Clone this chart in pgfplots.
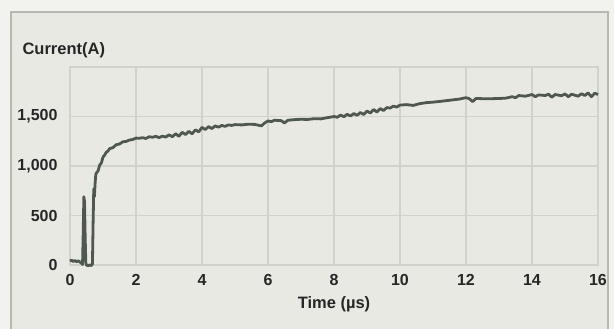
\documentclass[border=0pt]{standalone}
\usepackage{pgfplots}
\pgfplotsset{compat=1.18}
\usepackage{fontspec}
\setmainfont{Liberation Sans}
\definecolor{bgout}{HTML}{F2F2EE}
\definecolor{bgin}{HTML}{E9E9E4}
\definecolor{gridc}{HTML}{D2D2CC}
\definecolor{framec}{HTML}{B8B8B2}
\definecolor{trace}{HTML}{4E584F}
\begin{document}
\begin{tikzpicture}[x=1pt,y=1pt]
\useasboundingbox (-70,-64) rectangle (544,265);
\fill[bgout] (-70,-64) rectangle (544,265);
\fill[bgin] (-59,-80) rectangle (538,253);
\draw[framec,line width=1.2pt] (-59,-80) -- (-59,253) -- (538,253) -- (538,-80);
\begin{axis}[
  at={(0,0)}, anchor=origin,
  scale only axis, width=528pt, height=198pt,
  xmin=0, xmax=16, ymin=0, ymax=2000,
  xtick={0,2,...,16}, ytick={0,500,1000,1500},
  grid=major, major grid style={gridc,line width=1.2pt},
  axis line style={gridc,line width=1.2pt},
  major tick length=0pt,
  /pgf/number format/assume math mode=true,
  /pgf/number format/1000 sep={,},
  ticklabel style={font=\fontsize{16}{18}\selectfont\bfseries, text=black!85},
  xticklabel style={yshift=-6pt},
  yticklabel style={xshift=-9pt},
  xlabel={Time (µs)},
  xlabel style={font=\fontsize{16.5}{18}\selectfont\bfseries, text=black!85, yshift=-4pt},
  clip=false,
]
\addplot[trace, line width=2.8pt, line join=round] table {
x y
0 40
0.05 48
0.1 36
0.15 44
0.2 34
0.25 42
0.3 30
0.35 18
0.38 5
0.40 320
0.42 690
0.44 640
0.46 280
0.48 20
0.5 0
0.55 -8
0.6 0
0.65 -5
0.68 10
0.70 420
0.72 770
0.74 690
0.76 820
0.78 910
0.8 930
0.85 950
0.9 1010
0.95 1030
1.0 1090
1.05 1110
1.1 1140
1.15 1150
1.2 1175
1.3 1185
1.4 1215
1.5 1222
1.6 1245
1.7 1248
1.8 1262
1.9 1268
2.0 1282
2.1 1280
2.2 1286
2.3 1278
2.4 1296
2.5 1290
2.6 1300
2.7 1286
2.8 1302
2.9 1292
3.0 1315
3.1 1296
3.2 1325
3.3 1300
3.4 1340
3.5 1318
3.6 1350
3.7 1325
3.8 1365
3.9 1345
4.0 1390
4.1 1368
4.2 1398
4.3 1378
4.4 1405
4.5 1392
4.6 1410
4.7 1400
4.8 1415
4.9 1410
5.0 1418
5.2 1415
5.4 1422
5.6 1420
5.8 1405
5.9 1435
6.0 1455
6.1 1448
6.2 1462
6.4 1458
6.5 1435
6.6 1462
6.8 1468
7.0 1472
7.2 1470
7.4 1478
7.6 1476
7.8 1488
8.0 1500
8.1 1492
8.2 1515
8.3 1498
8.4 1522
8.5 1505
8.6 1530
8.7 1512
8.8 1540
8.9 1520
9.0 1555
9.1 1535
9.2 1570
9.3 1545
9.4 1580
9.5 1560
9.6 1590
9.7 1585
9.8 1605
9.9 1595
10.0 1615
10.2 1620
10.4 1612
10.6 1630
10.8 1640
11.0 1645
11.2 1652
11.4 1660
11.6 1668
11.8 1676
12.0 1690
12.1 1680
12.2 1650
12.3 1682
12.5 1680
12.8 1680
13.0 1682
13.2 1685
13.4 1700
13.5 1690
13.6 1712
13.8 1705
14.0 1722
14.1 1700
14.2 1718
14.4 1712
14.5 1725
14.6 1695
14.7 1722
14.9 1710
15.0 1728
15.1 1700
15.2 1725
15.4 1705
15.5 1730
15.6 1712
15.7 1738
15.8 1700
15.9 1735
16.0 1722
};
\end{axis}
\node[anchor=west, font=\fontsize{16.5}{18}\selectfont\bfseries, text=black!85] at (-51,215) {Current(A)};
\end{tikzpicture}
\end{document}
